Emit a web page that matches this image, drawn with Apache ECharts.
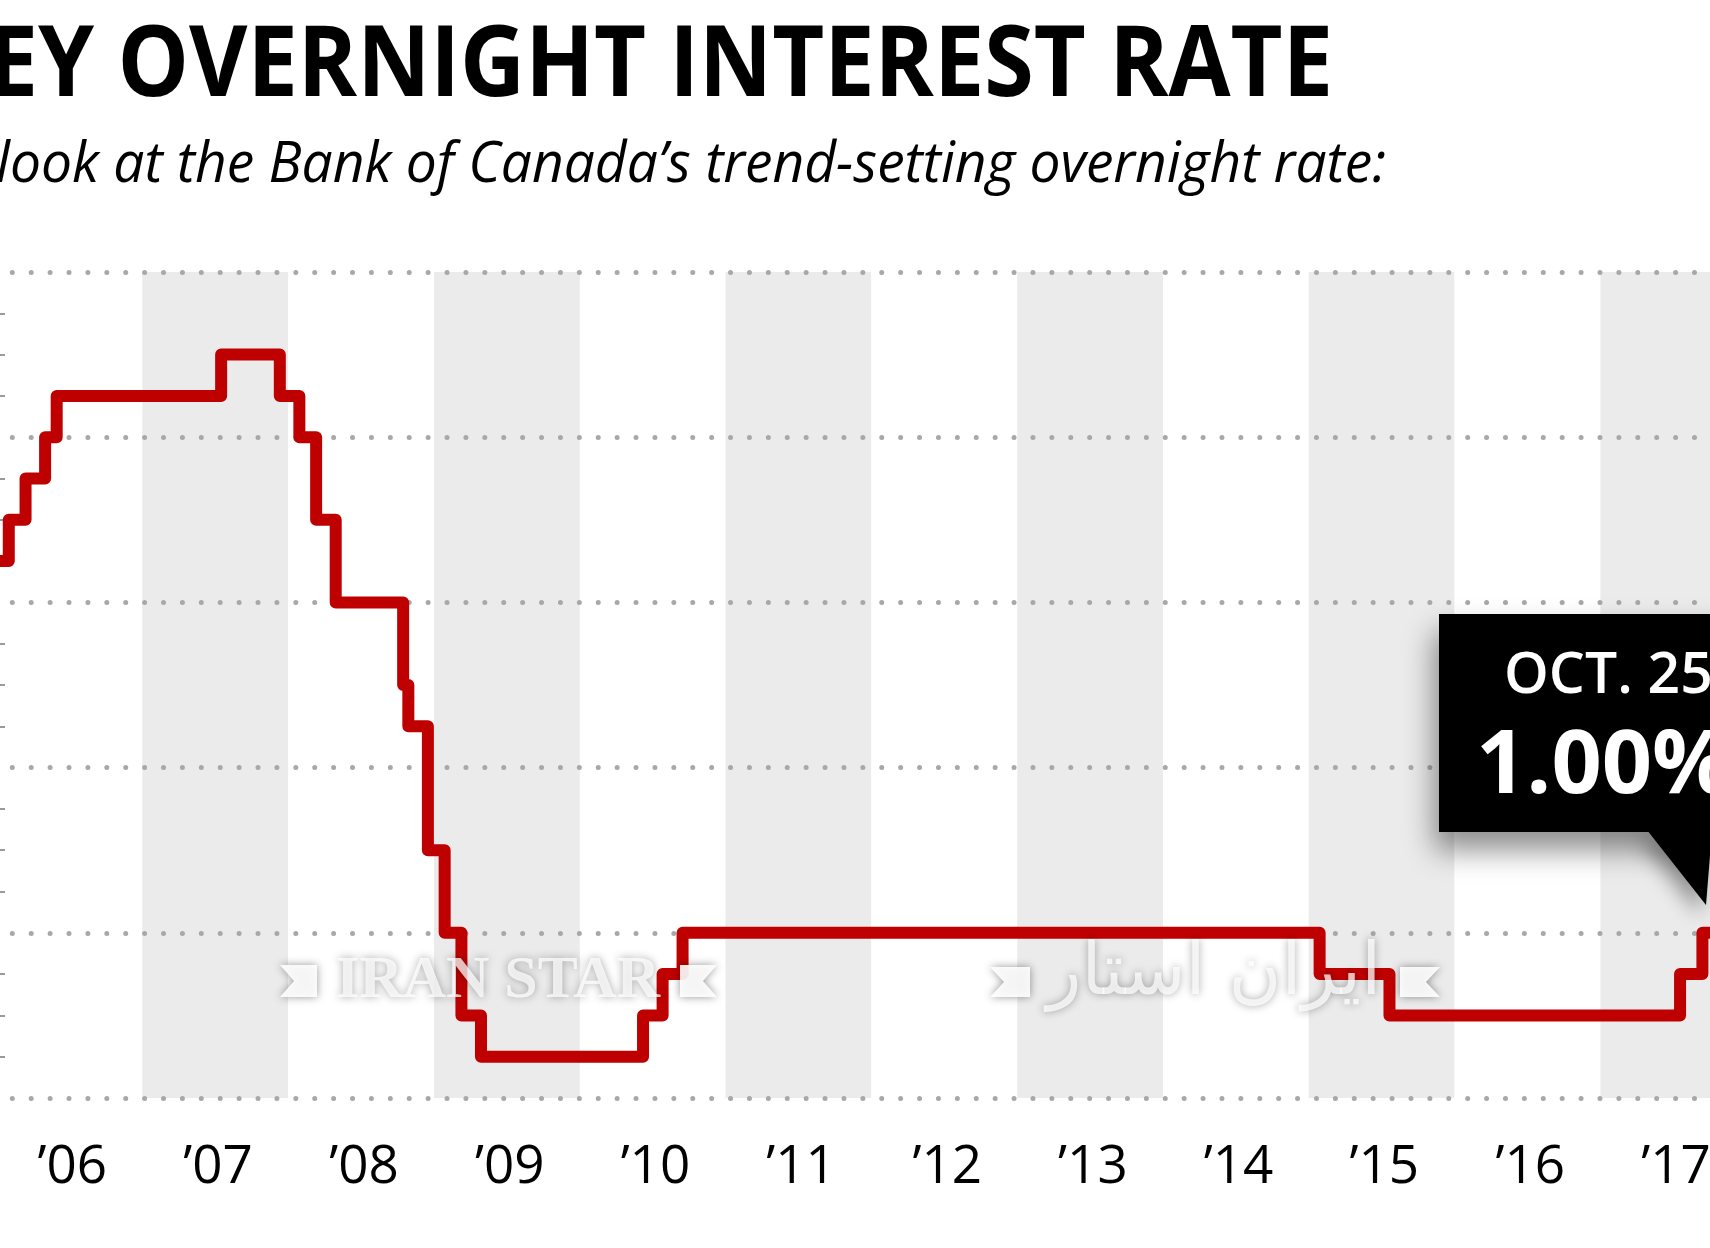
<!DOCTYPE html>
<html>
<head>
<meta charset="utf-8">
<script src="https://cdn.jsdelivr.net/npm/echarts@6/dist/echarts.min.js"></script>
<style>
html,body{margin:0;padding:0;background:#ffffff;}
#chart{width:1710px;height:1248px;}
</style>
</head>
<body>
<div id="chart"></div>
<script>
// ---- DATA ----
const TITLE = "KEY OVERNIGHT INTEREST RATE";
const SUBTITLE = "A look at the Bank of Canada’s trend-setting overnight rate:";
// dates when the overnight rate target changed, and the new rate (%)
const changeDates = ["2005-12-06","2006-01-24","2006-03-07","2006-04-25","2006-05-24","2007-07-10","2007-12-04","2008-01-22","2008-03-04","2008-04-22","2008-10-08","2008-10-21","2008-12-09","2009-01-20","2009-03-03","2009-04-21","2010-06-01","2010-07-20","2010-09-08","2015-01-21","2015-07-15","2017-07-12","2017-09-06","2017-10-25"];
const rates = [3.25,3.50,3.75,4.00,4.25,4.50,4.25,4.00,3.50,3.00,2.50,2.25,1.50,1.00,0.50,0.25,0.50,0.75,1.00,0.75,0.50,0.75,1.00,1.00];
const years = [2006,2007,2008,2009,2010,2011,2012,2013,2014,2015,2016,2017];
const yearLabels = ["’06","’07","’08","’09","’10","’11","’12","’13","’14","’15","’16","’17"];
const shadedYears = [2007,2009,2011,2013,2015,2017];
const yTicks = [0,1,2,3,4,5];
const calloutDate = "OCT. 25";
const calloutValue = "1.00%";
const watermarkLatin = "IRAN STAR";
const watermarkPersian = "ایران استار";

// ---- helpers ----
function textWidth(t, font){
  const c = document.createElement('canvas').getContext('2d');
  c.font = font; return c.measureText(t).width;
}
const titleFS = 99, subFS = 56;
const titleFont = "bold " + titleFS + "px 'Open Sans'";
const subFont = "italic " + subFS + "px 'Open Sans'";
const titleScale = 1.013 * 1328 / (textWidth(TITLE, titleFont) - textWidth("K", titleFont));
const subScale = 1390 / textWidth(SUBTITLE.slice(2), subFont);

const chart = echarts.init(document.getElementById('chart'), null, {renderer:'canvas'});
const lineData = changeDates.map((d,i)=>[d, rates[i]]);
const bandData = shadedYears.map(y=>[y + "-01-01", (y+1) + "-01-01"]);
const labelData = years.map(y=>[y + "-07-02", yTicks[0]]);

const wmShadow = {shadowBlur: 8, shadowColor: 'rgba(0,0,0,0.45)'};
const wmTextShadow = {textShadowBlur: 8, textShadowColor: 'rgba(0,0,0,0.45)'};

const option = {
  backgroundColor: '#ffffff',
  animation: false,
  grid: {left: 0, right: 0, top: 272, bottom: 150, outerBoundsMode: 'none'},
  xAxis: {
    type: 'time',
    min: '2006-01-02',
    max: '2017-09-25',
    axisLine: {show: false},
    axisTick: {show: false},
    splitLine: {show: false},
    axisLabel: {show: false}
  },
  yAxis: {
    type: 'value',
    min: yTicks[0], max: yTicks[yTicks.length-1], interval: 1,
    axisLine: {show: false},
    axisTick: {show: false, inside: true},
    minorTick: {show: true, splitNumber: 4, length: 5, lineStyle: {color: '#9a9a9a', width: 2}},
    axisLabel: {show: false},
    splitLine: {show: true, lineStyle: {color: '#a8a8a8', width: 5, type: [0.001, 18.9], dashOffset: 6.6, cap: 'round'}}
  },
  series: [
    {
      type: 'custom',
      z: -1,
      silent: true,
      data: bandData,
      dimensions: [{name:'s', type:'time'}, {name:'e', type:'time'}],
      encode: {x: [0, 1]},
      renderItem: function(params, api){
        const p1 = api.coord([api.value(0), yTicks[yTicks.length-1]]);
        const p2 = api.coord([api.value(1), yTicks[0]]);
        return {type: 'rect', shape: {x: p1[0] - 3, y: p1[1], width: p2[0]-p1[0], height: p2[1]-p1[1]}, style: {fill: '#ebebeb'}};
      }
    },
    {
      type: 'line',
      step: 'end',
      data: lineData,
      showSymbol: false,
      symbol: 'none',
      clip: true,
      z: 3,
      lineStyle: {color: '#bf0000', width: 12, join: 'round', cap: 'butt'}
    },
    {
      type: 'scatter',
      data: labelData,
      symbolSize: 1,
      silent: true,
      clip: false,
      itemStyle: {color: 'rgba(0,0,0,0)', opacity: 1},
      labelLayout: {hideOverlap: false},
      label: {
        show: true,
        position: 'bottom',
        distance: 43,
        offset: [-14, 0],
        fontFamily: "'Open Sans'",
        fontSize: 53,
        color: '#000000',
        opacity: 1,
        formatter: function(p){ return yearLabels[p.dataIndex]; }
      }
    }
  ],
  graphic: [
    {type:'text', x: 1333, y: 96 - 0.285*titleFS, scaleX: titleScale, z: 10,
     style:{text: TITLE, fill:'#000000', fontFamily:"'Open Sans'", fontWeight:'bold', fontSize: titleFS, align:'right', verticalAlign:'middle'}},
    {type:'text', x: 1386, y: 182 - 0.285*subFS, scaleX: subScale, z: 10,
     style:{text: SUBTITLE, fill:'#000000', fontFamily:"'Open Sans'", fontStyle:'italic', fontSize: subFS, align:'right', verticalAlign:'middle'}},
    // watermarks
    {type:'polygon', z: 20, silent:true, shape:{points:[[280,965],[317,965],[317,997],[280,997],[294,981]]}, style:Object.assign({fill:'rgba(255,255,255,0.9)'}, wmShadow)},
    {type:'polygon', z: 20, silent:true, shape:{points:[[717,965],[680,965],[680,997],[717,997],[703,981]]}, style:Object.assign({fill:'rgba(255,255,255,0.9)'}, wmShadow)},
    {type:'text', z: 20, silent:true, x: 498, y: 981,
     style:Object.assign({text: watermarkLatin, fill:'rgba(255,255,255,0.75)', fontFamily:"'Liberation Serif'", fontWeight:'bold', fontSize: 60, align:'center', verticalAlign:'middle'}, wmTextShadow)},
    {type:'polygon', z: 20, silent:true, shape:{points:[[990,967],[1030,967],[1030,997],[990,997],[1004,982]]}, style:Object.assign({fill:'rgba(255,255,255,0.9)'}, wmShadow)},
    {type:'polygon', z: 20, silent:true, shape:{points:[[1440,967],[1400,967],[1400,997],[1440,997],[1426,982]]}, style:Object.assign({fill:'rgba(255,255,255,0.9)'}, wmShadow)},
    {type:'text', z: 20, silent:true, x: 1214, y: 975,
     style:Object.assign({text: watermarkPersian, fill:'rgba(255,255,255,0.75)', fontFamily:"'DejaVu Sans'", fontSize: 72, align:'center', verticalAlign:'middle'}, wmTextShadow)},
    // callout
    {type:'rect', z: 30, silent:true, shape:{x:1439, y:614, width:400, height:218},
     style:{fill:'#000000', shadowBlur:28, shadowOffsetY:18, shadowOffsetX:-4, shadowColor:'rgba(0,0,0,0.45)'}},
    {type:'polygon', z: 30, silent:true, shape:{points:[[1647,830],[1712,830],[1706,905]]},
     style:{fill:'#000000', shadowBlur:20, shadowOffsetY:10, shadowOffsetX:-6, shadowColor:'rgba(0,0,0,0.4)'}},
    {type:'text', z: 31, silent:true, x: 1504, y: 693 - 0.285*57,
     style:{text: calloutDate, fill:'#ffffff', fontFamily:"'Open Sans'", fontWeight:600, fontSize:57, align:'left', verticalAlign:'middle'}},
    {type:'text', z: 31, silent:true, x: 1476, y: 793 - 0.285*88,
     style:{text: calloutValue, fill:'#ffffff', fontFamily:"'Open Sans'", fontWeight:'bold', fontSize:88, align:'left', verticalAlign:'middle'}}
  ]
};
chart.setOption(option);
</script>
</body>
</html>
